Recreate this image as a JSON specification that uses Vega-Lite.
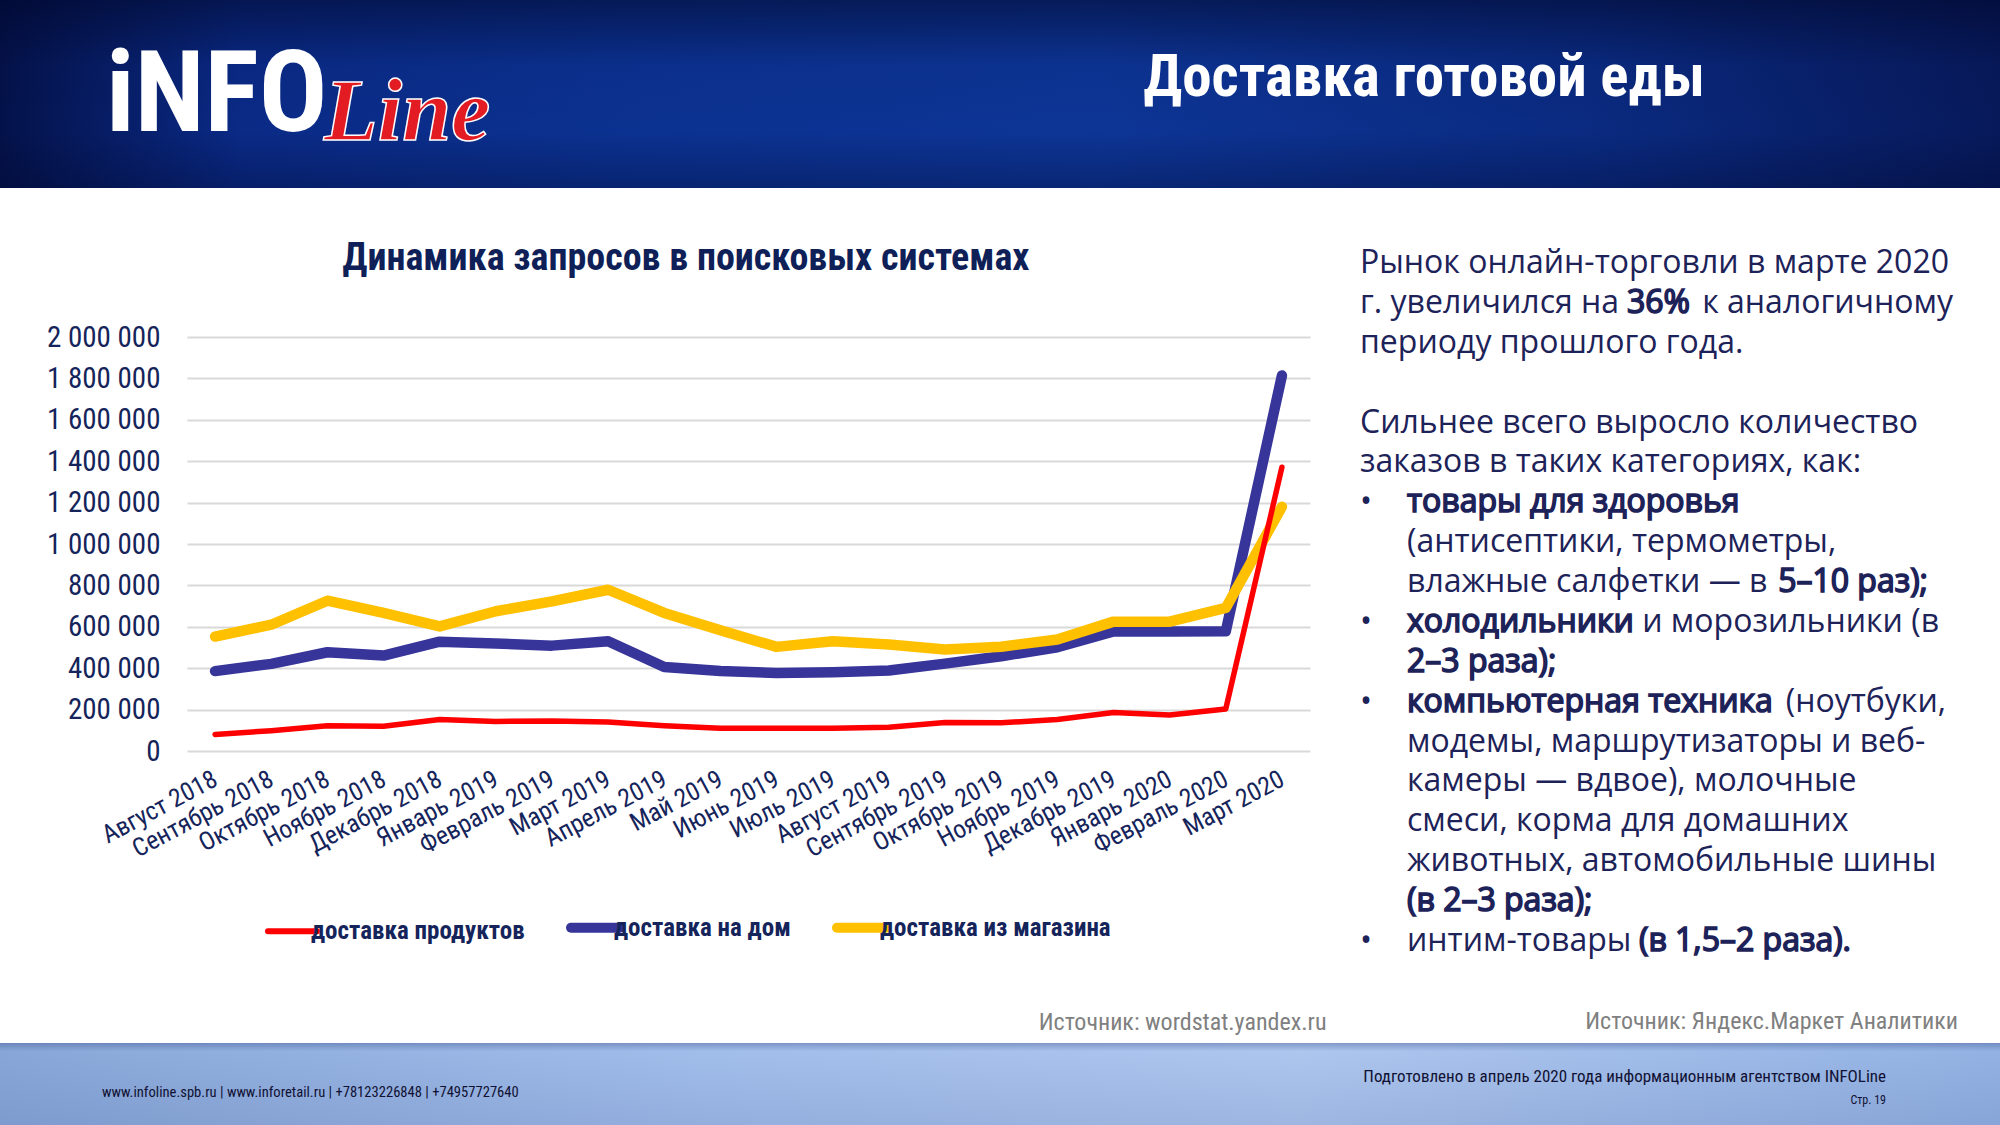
{
  "$schema": "https://vega.github.io/schema/vega-lite/v6.json",
  "background": "#ffffff",
  "padding": 0,
  "columns": 1,
  "align": "none",
  "spacing": 0,
  "config": {
    "view": {"stroke": null},
    "concat": {"spacing": 0}
  },
  "concat": [
    {
      "width": 2000,
      "height": 188,
      "title": {
        "text": "Доставка готовой еды",
        "orient": "top",
        "anchor": "end",
        "frame": "group",
        "offset": -155,
        "dx": -295,
        "baseline": "alphabetic",
        "font": "Roboto Condensed, Liberation Sans Narrow, Arial Narrow, DejaVu Sans Condensed, sans-serif",
        "fontSize": 59,
        "fontWeight": "bold",
        "color": "#ffffff"
      },
      "data": {"values": [{}]},
      "layer": [
        {
          "mark": {
            "type": "rect",
            "color": {
              "gradient": "linear", "x1": 0, "y1": 0, "x2": 1, "y2": 0,
              "stops": [
                {"offset": 0, "color": "#04124a"},
                {"offset": 0.12, "color": "#0a2a86"},
                {"offset": 0.3, "color": "#0b3190"},
                {"offset": 0.55, "color": "#0d3596"},
                {"offset": 0.8, "color": "#0a2a80"},
                {"offset": 1, "color": "#07195a"}
              ]
            }
          }
        },
        {
          "mark": {
            "type": "rect",
            "color": {
              "gradient": "linear", "x1": 0, "y1": 0, "x2": 0, "y2": 1,
              "stops": [
                {"offset": 0, "color": "rgba(0,6,40,0.55)"},
                {"offset": 0.35, "color": "rgba(0,6,40,0.05)"},
                {"offset": 0.7, "color": "rgba(0,6,40,0)"},
                {"offset": 1, "color": "rgba(0,6,40,0.3)"}
              ]
            }
          }
        },
        {
          "mark": {"type": "text", "text": "iNFO", "align": "left", "baseline": "alphabetic",
                   "font": "Roboto Condensed, Liberation Sans Narrow, Arial Narrow, DejaVu Sans Condensed, sans-serif",
                   "fontSize": 114, "fontWeight": "bold", "color": "#ffffff"},
          "encoding": {"x": {"value": 106}, "y": {"value": 131}}
        },
        {
          "mark": {"type": "text", "text": "Line", "align": "left", "baseline": "alphabetic",
                   "font": "Liberation Serif, DejaVu Serif, serif", "fontStyle": "italic",
                   "fontSize": 88, "fontWeight": "bold", "fill": "#e31b23", "stroke": "#ffffff", "strokeWidth": 1.5},
          "encoding": {"x": {"value": 324}, "y": {"value": 140}}
        }
      ]
    },
    {
      "hconcat": [
        {
          "width": 1310,
          "height": 414,
          "title": {
            "text": " ",
            "fontSize": 43,
            "subtitle": "Динамика запросов в поисковых системах",
            "subtitleFont": "Roboto Condensed, Liberation Sans Narrow, Arial Narrow, DejaVu Sans Condensed, sans-serif",
            "subtitleFontSize": 38,
            "subtitleFontWeight": "bold",
            "subtitleColor": "#0f1f57",
            "subtitlePadding": 9,
            "anchor": "middle",
            "frame": "group",
            "dx": 31,
            "offset": 45
          },
          "data": {
            "values": [
              {"month": "Август 2018", "series": "доставка продуктов", "value": 80000},
              {"month": "Сентябрь 2018", "series": "доставка продуктов", "value": 98000},
              {"month": "Октябрь 2018", "series": "доставка продуктов", "value": 122000},
              {"month": "Ноябрь 2018", "series": "доставка продуктов", "value": 120000},
              {"month": "Декабрь 2018", "series": "доставка продуктов", "value": 152000},
              {"month": "Январь 2019", "series": "доставка продуктов", "value": 143000},
              {"month": "Февраль 2019", "series": "доставка продуктов", "value": 145000},
              {"month": "Март 2019", "series": "доставка продуктов", "value": 140000},
              {"month": "Апрель 2019", "series": "доставка продуктов", "value": 122000},
              {"month": "Май 2019", "series": "доставка продуктов", "value": 110000},
              {"month": "Июнь 2019", "series": "доставка продуктов", "value": 110000},
              {"month": "Июль 2019", "series": "доставка продуктов", "value": 110000},
              {"month": "Август 2019", "series": "доставка продуктов", "value": 115000},
              {"month": "Сентябрь 2019", "series": "доставка продуктов", "value": 138000},
              {"month": "Октябрь 2019", "series": "доставка продуктов", "value": 136000},
              {"month": "Ноябрь 2019", "series": "доставка продуктов", "value": 152000},
              {"month": "Декабрь 2019", "series": "доставка продуктов", "value": 186000},
              {"month": "Январь 2020", "series": "доставка продуктов", "value": 174000},
              {"month": "Февраль 2020", "series": "доставка продуктов", "value": 203000},
              {"month": "Март 2020", "series": "доставка продуктов", "value": 1371000},
              {"month": "Август 2018", "series": "доставка на дом", "value": 386000},
              {"month": "Сентябрь 2018", "series": "доставка на дом", "value": 421000},
              {"month": "Октябрь 2018", "series": "доставка на дом", "value": 477000},
              {"month": "Ноябрь 2018", "series": "доставка на дом", "value": 461000},
              {"month": "Декабрь 2018", "series": "доставка на дом", "value": 528000},
              {"month": "Январь 2019", "series": "доставка на дом", "value": 519000},
              {"month": "Февраль 2019", "series": "доставка на дом", "value": 509000},
              {"month": "Март 2019", "series": "доставка на дом", "value": 530000},
              {"month": "Апрель 2019", "series": "доставка на дом", "value": 406000},
              {"month": "Май 2019", "series": "доставка на дом", "value": 386000},
              {"month": "Июнь 2019", "series": "доставка на дом", "value": 377000},
              {"month": "Июль 2019", "series": "доставка на дом", "value": 381000},
              {"month": "Август 2019", "series": "доставка на дом", "value": 389000},
              {"month": "Сентябрь 2019", "series": "доставка на дом", "value": 422000},
              {"month": "Октябрь 2019", "series": "доставка на дом", "value": 458000},
              {"month": "Ноябрь 2019", "series": "доставка на дом", "value": 501000},
              {"month": "Декабрь 2019", "series": "доставка на дом", "value": 577000},
              {"month": "Январь 2020", "series": "доставка на дом", "value": 577000},
              {"month": "Февраль 2020", "series": "доставка на дом", "value": 578000},
              {"month": "Март 2020", "series": "доставка на дом", "value": 1814000},
              {"month": "Август 2018", "series": "доставка из магазина", "value": 553000},
              {"month": "Сентябрь 2018", "series": "доставка из магазина", "value": 610000},
              {"month": "Октябрь 2018", "series": "доставка из магазина", "value": 726000},
              {"month": "Ноябрь 2018", "series": "доставка из магазина", "value": 667000},
              {"month": "Декабрь 2018", "series": "доставка из магазина", "value": 602000},
              {"month": "Январь 2019", "series": "доставка из магазина", "value": 675000},
              {"month": "Февраль 2019", "series": "доставка из магазина", "value": 723000},
              {"month": "Март 2019", "series": "доставка из магазина", "value": 779000},
              {"month": "Апрель 2019", "series": "доставка из магазина", "value": 667000},
              {"month": "Май 2019", "series": "доставка из магазина", "value": 583000},
              {"month": "Июнь 2019", "series": "доставка из магазина", "value": 503000},
              {"month": "Июль 2019", "series": "доставка из магазина", "value": 530000},
              {"month": "Август 2019", "series": "доставка из магазина", "value": 514000},
              {"month": "Сентябрь 2019", "series": "доставка из магазина", "value": 490000},
              {"month": "Октябрь 2019", "series": "доставка из магазина", "value": 504000},
              {"month": "Ноябрь 2019", "series": "доставка из магазина", "value": 539000},
              {"month": "Декабрь 2019", "series": "доставка из магазина", "value": 625000},
              {"month": "Январь 2020", "series": "доставка из магазина", "value": 625000},
              {"month": "Февраль 2020", "series": "доставка из магазина", "value": 691000},
              {"month": "Март 2020", "series": "доставка из магазина", "value": 1180000}
            ]
          },
          "encoding": {
            "x": {
              "field": "month", "type": "ordinal",
              "scale": {"type": "point", "padding": 0.5, "range": [187, 1310],
                "domain": ["Август 2018","Сентябрь 2018","Октябрь 2018","Ноябрь 2018","Декабрь 2018","Январь 2019","Февраль 2019","Март 2019","Апрель 2019","Май 2019","Июнь 2019","Июль 2019","Август 2019","Сентябрь 2019","Октябрь 2019","Ноябрь 2019","Декабрь 2019","Январь 2020","Февраль 2020","Март 2020"]},
              "axis": {
                "labelAngle": -28, "labelAlign": "right", "labelBaseline": "middle",
                "labelPadding": 26, "labelOverlap": false,
                "labelFont": "Roboto Condensed, Liberation Sans Narrow, Arial Narrow, DejaVu Sans Condensed, sans-serif",
                "labelFontSize": 25.5, "labelColor": "#15245a",
                "domain": false, "ticks": false, "grid": false,
                "title": "Источник: wordstat.yandex.ru",
                "titleX": 1326, "titleY": 278, "titleAlign": "right", "titleAnchor": "end",
                "titleBaseline": "alphabetic",
                "titleFont": "Roboto Condensed, Liberation Sans Narrow, Arial Narrow, DejaVu Sans Condensed, sans-serif",
                "titleFontSize": 24, "titleFontWeight": "normal", "titleColor": "#808080"
              }
            },
            "y": {
              "field": "value", "type": "quantitative",
              "scale": {"domain": [0, 2000000], "nice": false, "zero": true},
              "axis": {
                "values": [0, 200000, 400000, 600000, 800000, 1000000, 1200000, 1400000, 1600000, 1800000, 2000000],
                "labelExpr": "replace(format(datum.value, ','), regexp(',', 'g'), ' ')",
                "labelFont": "Roboto Condensed, Liberation Sans Narrow, Arial Narrow, DejaVu Sans Condensed, sans-serif",
                "labelFontSize": 29, "labelColor": "#15245a", "labelPadding": 27,
                "domain": false, "ticks": false,
                "gridColor": "#d9d9d9", "gridWidth": 2,
                "offset": -187,
                "title": null, "minExtent": 0
              }
            },
            "color": {
              "field": "series", "type": "nominal",
              "scale": {"domain": ["доставка продуктов", "доставка на дом", "доставка из магазина"],
                        "range": ["#ff0000", "#37349a", "#ffc000"]},
              "legend": {
                "orient": "none", "legendX": 280, "legendY": 915, "direction": "horizontal",
                "title": null, "symbolType": "stroke", "symbolSize": 2400,
                "labelFont": "Roboto Condensed, Liberation Sans Narrow, Arial Narrow, DejaVu Sans Condensed, sans-serif",
                "labelFontSize": 25, "labelFontWeight": "bold", "labelColor": "#15245a",
                "labelLimit": 400, "labelOffset": 6, "columnPadding": 26,
                "encode": {"symbols": {"update": {
                  "strokeWidth": {"signal": "datum.value === 'доставка продуктов' ? 6 : 10"},
                  "strokeCap": {"value": "round"}
                }}}
              }
            }
          },
          "layer": [
            {"transform": [{"filter": "datum.series === 'доставка на дом'"}],
             "mark": {"type": "line", "strokeWidth": 10.5, "strokeCap": "round", "strokeJoin": "round"}},
            {"transform": [{"filter": "datum.series === 'доставка из магазина'"}],
             "mark": {"type": "line", "strokeWidth": 10.5, "strokeCap": "round", "strokeJoin": "round"}},
            {"transform": [{"filter": "datum.series === 'доставка продуктов'"}],
             "mark": {"type": "line", "strokeWidth": 5.5, "strokeCap": "round", "strokeJoin": "round"}}
          ]
        },
        {
          "width": 674,
          "height": 706,
          "title": {
            "text": "Источник: Яндекс.Маркет Аналитики",
            "orient": "bottom", "anchor": "end", "frame": "group",
            "offset": -14, "dx": -42, "baseline": "alphabetic",
            "font": "Roboto Condensed, Liberation Sans Narrow, Arial Narrow, DejaVu Sans Condensed, sans-serif",
            "fontSize": 24, "fontWeight": "normal", "color": "#808080"
          },
          "data": {
            "values": [
              {"row": 0, "anchor": "main", "kind": "plain", "text": "Рынок онлайн-торговли в марте 2020"},
              {"row": 1, "anchor": "main", "kind": "plain", "text": "г. увеличился на"},
              {"row": 1, "anchor": "e36", "kind": "strong", "text": "36%"},
              {"row": 1, "anchor": "e1", "kind": "plain", "text": "к аналогичному"},
              {"row": 2, "anchor": "main", "kind": "plain", "text": "периоду прошлого года."},
              {"row": 4, "anchor": "main", "kind": "plain", "text": "Сильнее всего выросло количество"},
              {"row": 5, "anchor": "main", "kind": "plain", "text": "заказов в таких категориях, как:"},
              {"row": 6, "anchor": "main", "kind": "plain", "text": "•"},
              {"row": 6, "anchor": "indent", "kind": "strong", "text": "товары для здоровья"},
              {"row": 7, "anchor": "indent", "kind": "plain", "text": "(антисептики, термометры,"},
              {"row": 8, "anchor": "indent", "kind": "plain", "text": "влажные салфетки — в"},
              {"row": 8, "anchor": "e8", "kind": "strong", "text": "5–10 раз);"},
              {"row": 9, "anchor": "main", "kind": "plain", "text": "•"},
              {"row": 9, "anchor": "indent", "kind": "strong", "text": "холодильники"},
              {"row": 9, "anchor": "e9", "kind": "plain", "text": "и морозильники (в"},
              {"row": 10, "anchor": "indent", "kind": "strong", "text": "2–3 раза);"},
              {"row": 11, "anchor": "main", "kind": "plain", "text": "•"},
              {"row": 11, "anchor": "indent", "kind": "strong", "text": "компьютерная техника"},
              {"row": 11, "anchor": "e11", "kind": "plain", "text": "(ноутбуки,"},
              {"row": 12, "anchor": "indent", "kind": "plain", "text": "модемы, маршрутизаторы и веб-"},
              {"row": 13, "anchor": "indent", "kind": "plain", "text": "камеры — вдвое), молочные"},
              {"row": 14, "anchor": "indent", "kind": "plain", "text": "смеси, корма для домашних"},
              {"row": 15, "anchor": "indent", "kind": "plain", "text": "животных, автомобильные шины"},
              {"row": 16, "anchor": "indent", "kind": "strong", "text": "(в 2–3 раза);"},
              {"row": 17, "anchor": "main", "kind": "plain", "text": "•"},
              {"row": 17, "anchor": "indent", "kind": "plain", "text": "интим-товары"},
              {"row": 17, "anchor": "e17", "kind": "strong", "text": "(в 1,5–2 раза)."}
            ]
          },
          "resolve": {"scale": {"x": "independent"}},
          "encoding": {
            "y": {"field": "row", "type": "quantitative", "scale": {"domain": [0, 17], "range": [-74, 604]}, "axis": null},
            "text": {"field": "text"}
          },
          "layer": [
            {"transform": [{"filter": "(datum.anchor === 'main' || datum.anchor === 'indent') && datum.kind === 'plain'"}],
             "encoding": {"x": {"field": "anchor", "type": "nominal", "scale": {"type": "point", "domain": ["main", "indent"], "range": [34, 81], "padding": 0}, "axis": null}},
             "mark": {"type": "text", "align": "left", "baseline": "middle", "font": "Open Sans, Roboto, sans-serif", "fontSize": 32, "color": "#1d2258"}},
            {"transform": [{"filter": "(datum.anchor === 'main' || datum.anchor === 'indent') && datum.kind === 'strong'"}],
             "encoding": {"x": {"field": "anchor", "type": "nominal", "scale": {"type": "point", "domain": ["main", "indent"], "range": [34, 81], "padding": 0}, "axis": null}},
             "mark": {"type": "text", "align": "left", "baseline": "middle", "font": "Open Sans, Roboto, sans-serif", "fontSize": 32, "color": "#1d2258", "stroke": "#1d2258", "strokeWidth": 1.6}},
            {"transform": [{"filter": "datum.anchor === 'e9' || datum.anchor === 'e11' || datum.anchor === 'e1'"}],
             "encoding": {"x": {"field": "anchor", "type": "nominal", "scale": {"type": "point", "domain": ["e9", "e11", "e1"], "range": [613, 627], "padding": 0}, "axis": null}},
             "mark": {"type": "text", "align": "right", "baseline": "middle", "font": "Open Sans, Roboto, sans-serif", "fontSize": 32, "color": "#1d2258"}},
            {"transform": [{"filter": "datum.anchor === 'e8' || datum.anchor === 'e17'"}],
             "encoding": {"x": {"field": "anchor", "type": "nominal", "scale": {"type": "point", "domain": ["e8", "e17"], "range": [602, 525], "padding": 0}, "axis": null}},
             "mark": {"type": "text", "align": "right", "baseline": "middle", "font": "Open Sans, Roboto, sans-serif", "fontSize": 32, "color": "#1d2258", "stroke": "#1d2258", "strokeWidth": 1.6}},
            {"transform": [{"filter": "datum.anchor === 'e36'"}],
             "encoding": {"x": {"field": "anchor", "type": "nominal", "scale": {"type": "point", "domain": ["e36"], "range": [364, 364], "padding": 0}, "axis": null}},
             "mark": {"type": "text", "align": "right", "baseline": "middle", "font": "Open Sans, Roboto, sans-serif", "fontSize": 32, "color": "#1d2258", "stroke": "#1d2258", "strokeWidth": 1.6}}
          ]
        }
      ]
    },
    {
      "width": 2000,
      "height": 82,
      "title": {
        "text": "Подготовлено в апрель 2020 года информационным агентством INFOLine",
        "subtitle": "Стр. 19",
        "orient": "top", "anchor": "end", "frame": "group",
        "offset": -64, "dx": -114,
        "font": "Roboto Condensed, Liberation Sans Narrow, Arial Narrow, DejaVu Sans Condensed, sans-serif",
        "fontSize": 17, "fontWeight": "normal", "color": "#111133",
        "subtitleFont": "Roboto Condensed, Liberation Sans Narrow, Arial Narrow, DejaVu Sans Condensed, sans-serif",
        "subtitleFontSize": 12, "subtitleColor": "#111133", "subtitlePadding": 9
      },
      "data": {"values": [{}]},
      "layer": [
        {
          "mark": {
            "type": "rect",
            "color": {
              "gradient": "linear", "x1": 0, "y1": 0, "x2": 1, "y2": 0,
              "stops": [
                {"offset": 0, "color": "#88a7d8"},
                {"offset": 0.35, "color": "#a1bdea"},
                {"offset": 0.65, "color": "#adc6ee"},
                {"offset": 1, "color": "#93b2e3"}
              ]
            }
          }
        },
        {
          "mark": {
            "type": "rect",
            "color": {
              "gradient": "linear", "x1": 0, "y1": 0, "x2": 0, "y2": 1,
              "stops": [
                {"offset": 0, "color": "rgba(50,70,130,0.35)"},
                {"offset": 0.1, "color": "rgba(50,70,130,0)"},
                {"offset": 1, "color": "rgba(50,70,130,0.12)"}
              ]
            }
          }
        },
        {
          "mark": {"type": "text", "text": "www.infoline.spb.ru | www.inforetail.ru | +78123226848 | +74957727640",
                   "align": "left", "baseline": "middle",
                   "font": "Roboto Condensed, Liberation Sans Narrow, Arial Narrow, DejaVu Sans Condensed, sans-serif",
                   "fontSize": 14.6, "color": "#111133"},
          "encoding": {"x": {"value": 102}, "y": {"value": 50}}
        }
      ]
    }
  ]
}
